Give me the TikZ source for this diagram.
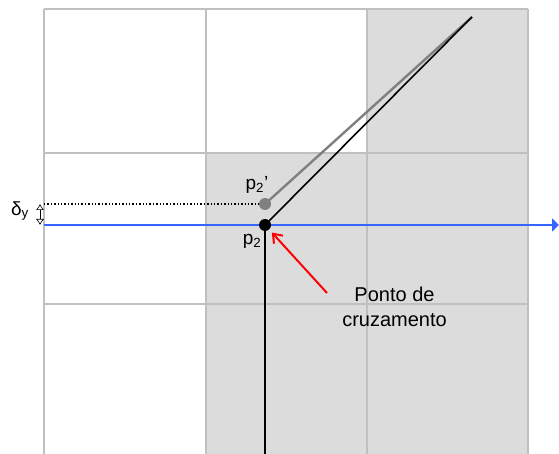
\documentclass[tikz,border=0pt]{standalone}
\usepackage{fontspec}
\setmainfont{Liberation Sans}
\usetikzlibrary{arrows.meta}
\definecolor{gridgray}{RGB}{192,192,192}
\definecolor{shadegray}{RGB}{220,220,220}
\definecolor{linegray}{RGB}{128,128,128}
\definecolor{axisblue}{RGB}{51,102,255}
\begin{document}
\begin{tikzpicture}[x=1pt,y=-1pt,
  gridline/.style={draw=gridgray,line width=2pt},
  shadecell/.style={fill=shadegray},
  blackline/.style={draw=black,line width=1.6pt},
  grayline/.style={draw=linegray,line width=2.4pt},
  blueline/.style={draw=axisblue,line width=2pt,-{Triangle[length=7pt,width=13pt]}},
  redarrow/.style={draw=red,line width=2pt,-{Straight Barb[length=8pt,width=12pt]}},
  dotline/.style={draw=black,line width=1.4pt,dash pattern=on 1.4pt off 2pt},
  dotnode/.style={circle,fill=black,inner sep=0pt,minimum size=12pt},
  graydotnode/.style={circle,fill=linegray,inner sep=0pt,minimum size=12pt},
  lbl/.style={font=\fontsize{19}{23}\selectfont,inner sep=0pt},
  note/.style={font=\fontsize{20}{25}\selectfont,align=center,inner sep=0pt}
]
\useasboundingbox (0,0) rectangle (559,454);
% shading
\fill[shadecell] (367,9) rectangle (528,454);
\fill[shadecell] (206,153) rectangle (367,454);
% grid
\foreach \x in {44,206,367,528} \draw[gridline] (\x,9) -- (\x,454);
\foreach \y in {9,153,304} \draw[gridline] (44,\y) -- (528,\y);
% positions
\coordinate (top) at (472,17);
\coordinate (p2c) at (265,225);
\coordinate (p2pc) at (265,204);
\coordinate (bot) at (265,454);
\coordinate (axl) at (44,225);
\coordinate (axr) at (559,225);
\coordinate (dotl) at (44,204);
\coordinate (dyt) at (40,204);
\coordinate (dyb) at (40,225);
\coordinate (rs) at (327,293);
% lines
\draw[grayline] (p2pc) -- (top);
\draw[blackline] (p2c) -- (top);
\draw[blackline,line width=2pt] (p2c) -- (bot);
\draw[dotline] (dotl) -- (p2pc);
\draw[blueline] (axl) -- (axr);
\draw[line width=0.6pt,{Latex[open,length=6pt,width=8pt]}-{Latex[open,length=6pt,width=8pt]}] (dyt) -- (dyb);
% nodes
\node[graydotnode] (p2p) at (p2pc) {};
\node[dotnode] (p2) at (p2c) {};
\node[lbl] (lp2p) at (257,185) {p\textsubscript{2}'};
\node[lbl] (lp2) at (252,241) {p\textsubscript{2}};
\node[lbl] (ldy) at (20,211) {δ\textsubscript{y}};
\node[note] (cross) at (394.5,307) {Ponto de\\cruzamento};
\draw[redarrow,shorten >=4pt] (rs) -- (p2);
\end{tikzpicture}
\end{document}
